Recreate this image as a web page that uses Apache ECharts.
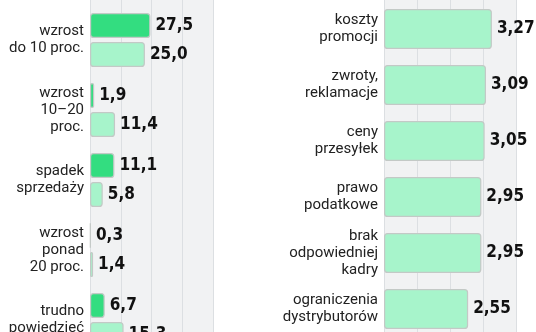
<!DOCTYPE html>
<html>
<head>
<meta charset="utf-8">
<script src="https://cdn.jsdelivr.net/npm/echarts@6/dist/echarts.min.js"></script>
<style>
html,body{margin:0;padding:0;background:#fff;}
#c{width:536px;height:332px;}
</style>
</head>
<body>
<div id="c"></div>
<script>
const leftCategories = ['wzrost\ndo 10 proc.', 'wzrost\n10–20\nproc.', 'spadek\nsprzedaży', 'wzrost\nponad\n20 proc.', 'trudno\npowiedzieć'];
const leftDark = [27.5, 1.9, 11.1, 0.3, 6.7];
const leftLight = [25.0, 11.4, 5.8, 1.4, 15.3];
const rightCategories = ['koszty\npromocji', 'zwroty,\nreklamacje', 'ceny\nprzesyłek', 'prawo\npodatkowe', 'brak\nodpowiedniej\nkadry', 'ograniczenia\ndystrybutorów'];
const rightValues = [3.27, 3.09, 3.05, 2.95, 2.95, 2.55];

const chart = echarts.init(document.getElementById('c'), null, {renderer: 'canvas'});
const catFont = {fontFamily: 'Roboto', fontSize: 15, color: '#222', lineHeight: 17, align: 'right'};
const valFont = {fontFamily: 'DejaVu Sans Condensed', fontWeight: 'bold', fontSize: 17, color: '#111'};
const barBorder = {borderColor: '#c3c9c6', borderWidth: 1.2, borderRadius: 3};
const comma = d => p => p.value.toFixed(d).replace('.', ',');

function bgAxis(grid, max, interval) {
  return {type: 'value', gridIndex: grid, min: 0, max: max, interval: interval,
    axisLine: {show: false}, axisTick: {show: false}, axisLabel: {show: false},
    splitLine: {show: true, lineStyle: {color: '#dcdfe2', width: 1}}};
}
function hiddenValAxis(grid, max, interval) {
  return {type: 'value', gridIndex: grid, min: 0, max: max, interval: interval,
    axisLine: {show: false}, axisTick: {show: false}, axisLabel: {show: false}, splitLine: {show: false}};
}

chart.setOption({
  animation: false,
  grid: [
    {left: 90, width: 123, top: 0, bottom: 0, show: true, backgroundColor: '#f1f2f3', borderWidth: 0, outerBoundsMode: 'none', containLabel: false},
    {left: 384, width: 132, top: 0, bottom: 0, show: true, backgroundColor: '#f1f2f3', borderWidth: 0, outerBoundsMode: 'none', containLabel: false},
    {left: 90, width: 123, top: 5, height: 350, outerBoundsMode: 'none', containLabel: false},
    {left: 384, width: 132, top: 1, height: 336, outerBoundsMode: 'none', containLabel: false}
  ],
  xAxis: [
    bgAxis(0, 56, 14),
    bgAxis(1, 4, 1),
    hiddenValAxis(2, 56, 14),
    hiddenValAxis(3, 4, 1)
  ],
  yAxis: [
    {type: 'category', gridIndex: 0, show: false, data: ['']},
    {type: 'category', gridIndex: 1, show: false, data: ['']},
    {type: 'category', gridIndex: 2, inverse: true, data: leftCategories,
      axisLine: {show: false}, axisTick: {show: false},
      axisLabel: Object.assign({margin: 6}, catFont)},
    {type: 'category', gridIndex: 3, inverse: true, data: rightCategories,
      axisLine: {show: false}, axisTick: {show: false},
      axisLabel: Object.assign({margin: 6}, catFont)}
  ],
  series: [
    {type: 'bar', xAxisIndex: 2, yAxisIndex: 2, data: leftDark, barWidth: 25, barGap: '16%',
      itemStyle: Object.assign({color: '#33dd80'}, barBorder),
      label: Object.assign({show: true, position: 'right', distance: 5, formatter: comma(1)}, valFont)},
    {type: 'bar', xAxisIndex: 2, yAxisIndex: 2, data: leftLight, barWidth: 25, barGap: '16%',
      itemStyle: Object.assign({color: '#a7f4cb'}, barBorder),
      label: Object.assign({show: true, position: 'right', distance: 5, formatter: comma(1)}, valFont)},
    {type: 'bar', xAxisIndex: 3, yAxisIndex: 3, data: rightValues, barWidth: 40,
      itemStyle: Object.assign({color: '#a7f4cb'}, barBorder),
      label: Object.assign({show: true, position: 'right', distance: 5, formatter: comma(2)}, valFont)}
  ]
});
</script>
</body>
</html>
